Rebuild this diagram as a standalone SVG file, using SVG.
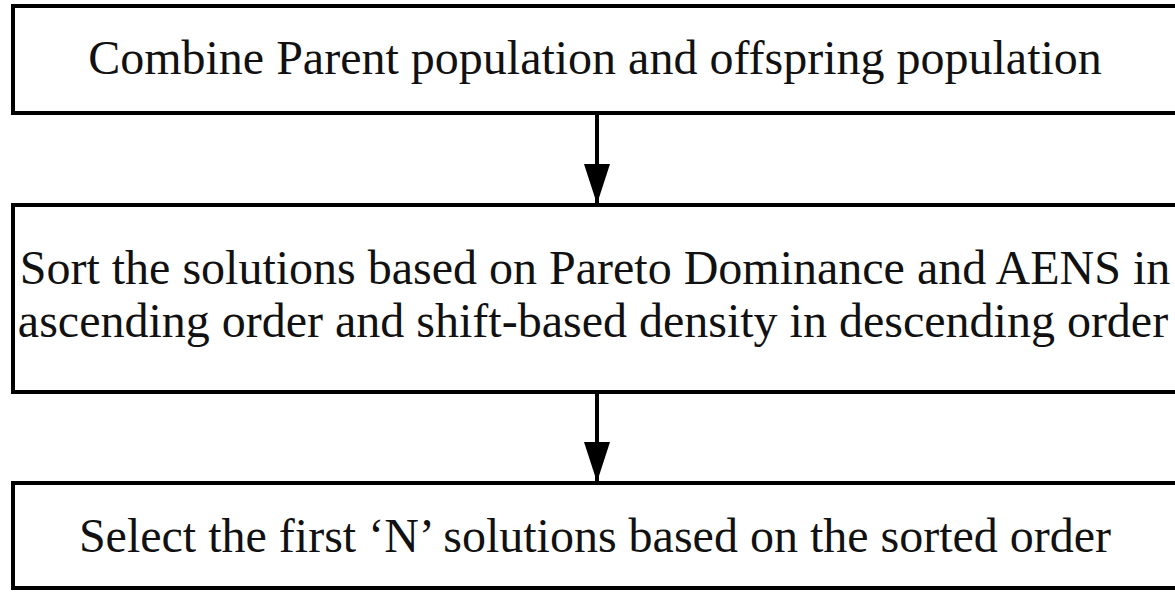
<svg xmlns="http://www.w3.org/2000/svg" width="1175" height="592" viewBox="0 0 1175 592">
  <style>
    .box { fill: #ffffff; stroke: #000000; stroke-width: 4; }
    .label { font-family: "Liberation Serif", "Times New Roman", serif; font-size: 48px; fill: #111111; text-anchor: middle; }
    .edge { stroke: #000000; stroke-width: 4; fill: none; }
  </style>
  <defs>
    <!-- filled triangular head, tip at the end of the line -->
    <marker id="arrowhead" markerUnits="userSpaceOnUse" markerWidth="40" markerHeight="26" refX="40" refY="13" orient="auto" viewBox="0 0 40 26">
      <path d="M0,0 L40,13 L0,26 Z" fill="#000000"/>
    </marker>
  </defs>
  <rect width="1175" height="592" fill="#ffffff"/>

  <g id="node-combine">
    <rect class="box" x="13" y="6" width="1170" height="107"/>
    <text class="label" x="595" y="74">Combine Parent population and offspring population</text>
  </g>

  <g id="node-sort">
    <rect class="box" x="13" y="205" width="1170" height="187"/>
    <text class="label" x="595" y="284">Sort the solutions based on Pareto Dominance and AENS in</text>
    <text class="label" x="593" y="337">ascending order and shift-based density in descending order</text>
  </g>

  <g id="node-select">
    <rect class="box" x="13" y="483" width="1170" height="105"/>
    <text class="label" x="595" y="552">Select the first ‘N’ solutions based on the sorted order</text>
  </g>

  <g id="connectors">
    <line class="edge" x1="597" y1="113" x2="597" y2="204" marker-end="url(#arrowhead)"/>
    <line class="edge" x1="597" y1="392" x2="597" y2="482" marker-end="url(#arrowhead)"/>
  </g>
</svg>
